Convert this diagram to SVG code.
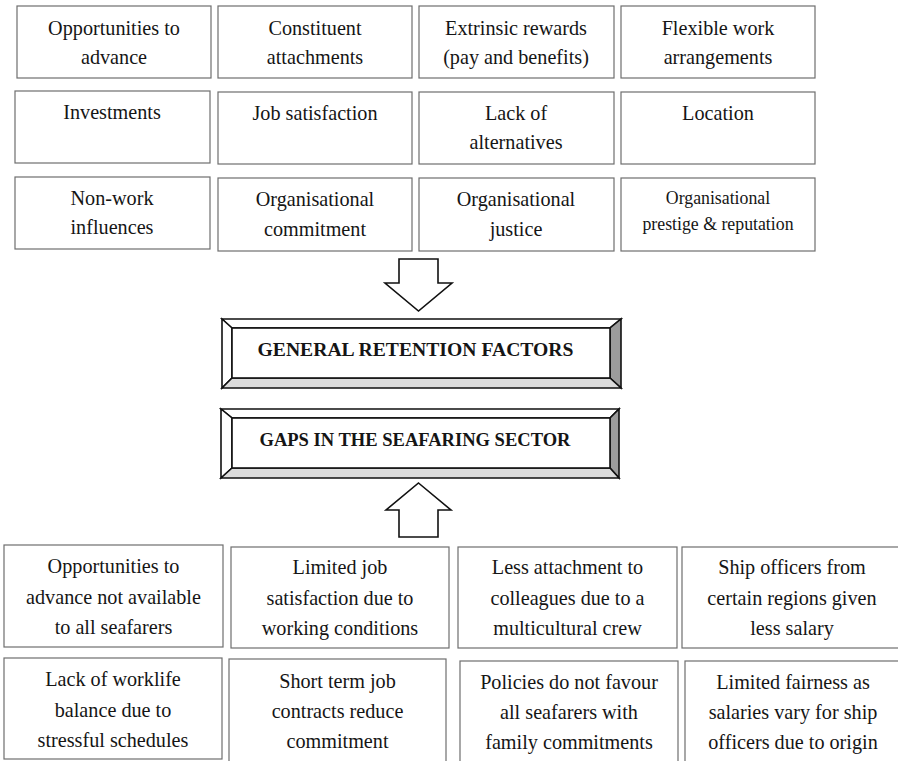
<svg xmlns="http://www.w3.org/2000/svg" width="898" height="761" viewBox="0 0 898 761">
<style>
.box{fill:#fff;stroke:#6e6e6e;stroke-width:1.2}
.t{font-family:'Liberation Serif','Times New Roman',Times,serif;font-size:20.2px;fill:#151515;text-anchor:middle}
.s{font-size:17.8px}
.b{font-family:'Liberation Serif','Times New Roman',Times,serif;font-size:18px;font-weight:bold;fill:#151515;text-anchor:middle}
.bev{stroke:#111;stroke-width:1.6;stroke-linejoin:miter}
.arr{fill:#fff;stroke:#111;stroke-width:1.6}
</style>
<rect width="898" height="761" fill="#fff"/>
<g id="n1"><rect class="box" x="17" y="6" width="194" height="72"/><text class="t" x="114" y="35">Opportunities to</text><text class="t" x="114" y="63.5">advance</text></g>
<g id="n2"><rect class="box" x="218" y="6" width="194" height="72"/><text class="t" x="315" y="35">Constituent</text><text class="t" x="315" y="63.5">attachments</text></g>
<g id="n3"><rect class="box" x="419" y="6" width="195" height="72"/><text class="t" x="516" y="35">Extrinsic rewards</text><text class="t" x="516" y="63.5">(pay and benefits)</text></g>
<g id="n4"><rect class="box" x="621" y="6" width="194" height="72"/><text class="t" x="718" y="35">Flexible work</text><text class="t" x="718" y="63.5">arrangements</text></g>
<g id="n5"><rect class="box" x="15" y="91" width="195" height="72"/><text class="t" x="112" y="119">Investments</text></g>
<g id="n6"><rect class="box" x="218" y="92" width="194" height="72"/><text class="t" x="315" y="120">Job satisfaction</text></g>
<g id="n7"><rect class="box" x="419" y="92" width="195" height="72"/><text class="t" x="516" y="120">Lack of</text><text class="t" x="516" y="149">alternatives</text></g>
<g id="n8"><rect class="box" x="621" y="92" width="194" height="72"/><text class="t" x="718" y="120">Location</text></g>
<g id="n9"><rect class="box" x="15" y="177" width="195" height="72"/><text class="t" x="112" y="205">Non-work</text><text class="t" x="112" y="234">influences</text></g>
<g id="n10"><rect class="box" x="218" y="178" width="194" height="73"/><text class="t" x="315" y="206">Organisational</text><text class="t" x="315" y="236">commitment</text></g>
<g id="n11"><rect class="box" x="419" y="178" width="195" height="73"/><text class="t" x="516" y="206">Organisational</text><text class="t" x="516" y="236">justice</text></g>
<g id="n12"><rect class="box" x="621" y="178" width="194" height="73"/><text class="t s" x="718" y="204">Organisational</text><text class="t s" x="718" y="229.5">prestige &amp; reputation</text></g>
<g id="connectors">
<polygon class="arr" points="399,259 438,259 438,283 452,283 418.5,311 385,283 399,283"/>
<polygon class="arr" points="418.5,483 451,510 438,510 438,537 399,537 399,510 386,510"/>
</g>
<g id="general">
<polygon class="bev" fill="#fff" points="222,319 621,319 610,328 232,328"/>
<polygon class="bev" fill="#fff" points="222,319 232,328 232,378 222,388"/>
<polygon class="bev" fill="#9c9c9c" points="621,319 621,388 610,378 610,328"/>
<polygon class="bev" fill="#dcdcdc" points="222,388 232,378 610,378 621,388"/>
<rect x="232" y="328" width="378" height="50" fill="#fff" stroke="#111" stroke-width="1.6"/>
<text class="b" x="415.5" y="356" textLength="316" lengthAdjust="spacingAndGlyphs">GENERAL RETENTION FACTORS</text>
</g>
<g id="gaps">
<polygon class="bev" fill="#fff" points="221,409 619,409 610,418 232,418"/>
<polygon class="bev" fill="#fff" points="221,409 232,418 232,468 221,478"/>
<polygon class="bev" fill="#9c9c9c" points="619,409 619,478 610,468 610,418"/>
<polygon class="bev" fill="#dcdcdc" points="221,478 232,468 610,468 619,478"/>
<rect x="232" y="418" width="378" height="50" fill="#fff" stroke="#111" stroke-width="1.6"/>
<text class="b" x="415" y="445.5" textLength="311" lengthAdjust="spacingAndGlyphs">GAPS IN THE SEAFARING SECTOR</text>
</g>
<g id="g1"><rect class="box" x="4" y="545" width="219" height="102"/><text class="t" x="113.5" y="573">Opportunities to</text><text class="t" x="113.5" y="604">advance not available</text><text class="t" x="113.5" y="634">to all seafarers</text></g>
<g id="g2"><rect class="box" x="231" y="547" width="218" height="101"/><text class="t" x="340" y="574">Limited job</text><text class="t" x="340" y="605">satisfaction due to</text><text class="t" x="340" y="635">working conditions</text></g>
<g id="g3"><rect class="box" x="458" y="547" width="219" height="101"/><text class="t" x="567.5" y="574">Less attachment to</text><text class="t" x="567.5" y="605">colleagues due to a</text><text class="t" x="567.5" y="635">multicultural crew</text></g>
<g id="g4"><rect class="box" x="682" y="547" width="220" height="101"/><text class="t" x="792" y="574">Ship officers from</text><text class="t" x="792" y="605">certain regions given</text><text class="t" x="792" y="635">less salary</text></g>
<g id="g5"><rect class="box" x="4" y="658" width="218" height="101"/><text class="t" x="113" y="686">Lack of worklife</text><text class="t" x="113" y="717">balance due to</text><text class="t" x="113" y="747">stressful schedules</text></g>
<g id="g6"><rect class="box" x="229" y="659" width="217" height="104"/><text class="t" x="337.5" y="688">Short term job</text><text class="t" x="337.5" y="718">contracts reduce</text><text class="t" x="337.5" y="748">commitment</text></g>
<g id="g7"><rect class="box" x="460" y="661" width="218" height="104"/><text class="t" x="569" y="689">Policies do not favour</text><text class="t" x="569" y="719">all seafarers with</text><text class="t" x="569" y="749">family commitments</text></g>
<g id="g8"><rect class="box" x="685" y="661" width="217" height="104"/><text class="t" x="793" y="689">Limited fairness as</text><text class="t" x="793" y="719">salaries vary for ship</text><text class="t" x="793" y="749">officers due to origin</text></g>
</svg>
